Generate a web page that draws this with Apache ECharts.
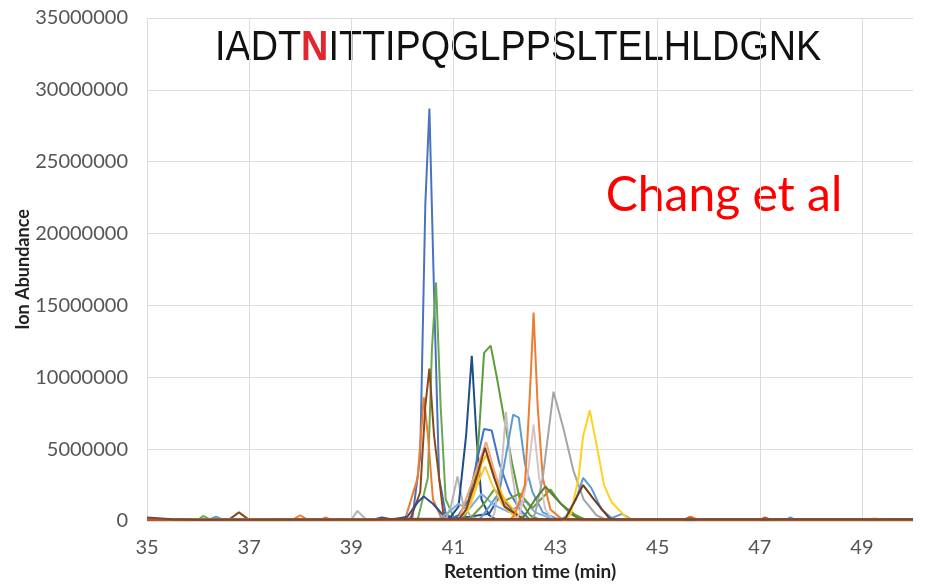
<!DOCTYPE html>
<html>
<head>
<meta charset="utf-8">
<script src="https://cdn.jsdelivr.net/npm/echarts@6/dist/echarts.min.js"></script>
<style>
  html, body { margin: 0; padding: 0; background: #fff; }
  #chart { width: 926px; height: 587px; }
</style>
</head>
<body>
<div id="chart"></div>
<script>
// retention time (min) / ion abundance pairs
var blueTall = [[35, 8e4], [40.1, 8e4], [40.2, 3e5], [40.35, 4.5e6], [40.45, 2.2e7], [40.53, 2.87e7], [40.62, 1.6e7], [40.72, 3e6], [40.85, 5e5], [41.0, 1e5], [50, 8e4]];
var greenTall = [[35, 8e4], [36.0, 8e4], [36.1, 3.5e5], [36.25, 8e4], [40.3, 1e5], [40.5, 3e6], [40.58, 1.2e7], [40.66, 1.66e7], [40.75, 8e6], [40.85, 1.5e6], [41.0, 3e5], [41.15, 8e4], [50, 8e4]];
var brownEarly = [[35, 2e5], [35.4, 8e4], [36.6, 8e4], [36.8, 6e5], [37.0, 8e4], [40.15, 8e4], [40.35, 2e6], [40.45, 8e6], [40.53, 1.06e7], [40.62, 6e6], [40.8, 6e5], [41.0, 1e5], [50, 8e4]];
var orangeEarly = [[35, 8e4], [37.85, 8e4], [38.0, 4e5], [38.15, 8e4], [38.4, 8e4], [38.5, 2.5e5], [38.6, 8e4], [40.05, 8e4], [40.3, 3e6], [40.42, 8.6e6], [40.5, 6e6], [40.6, 1.5e6], [40.75, 3e5], [40.9, 8e4], [50, 8e4]];
var navyEarly = [[35, 8e4], [39.4, 8e4], [39.6, 2.5e5], [39.8, 1e5], [40.1, 3e5], [40.3, 1.3e6], [40.42, 1.7e6], [40.6, 1.2e6], [40.8, 4e5], [41.0, 2e5], [41.3, 3e5], [41.7, 5e5], [41.9, 1.7e6], [42.05, 1.2e6], [42.3, 2e5], [42.5, 8e4], [50, 8e4]];
var navyMid = [[35, 8e4], [40.9, 8e4], [41.1, 1e6], [41.25, 6e6], [41.36, 1.15e7], [41.45, 6e6], [41.55, 1.5e6], [41.7, 4e5], [41.85, 8e4], [50, 8e4]];
var grayEarly = [[35, 8e4], [39.0, 8e4], [39.12, 7e5], [39.3, 8e4], [40.85, 1e5], [40.95, 1e6], [41.08, 3.1e6], [41.2, 1e6], [41.35, 3e5], [41.5, 8e4], [50, 8e4]];
var greenBroad = [[35, 8e4], [41.2, 1e5], [41.4, 2e6], [41.5, 6e6], [41.6, 1.17e7], [41.73, 1.22e7], [41.85, 1e7], [42.0, 7e6], [42.15, 4e6], [42.3, 1.5e6], [42.5, 4e5], [42.7, 8e4], [50, 8e4]];
var blueMid = [[35, 8e4], [40.9, 8e4], [41.1, 4e5], [41.3, 1.5e6], [41.45, 4e6], [41.6, 6.4e6], [41.75, 6.3e6], [41.9, 4e6], [42.1, 2e6], [42.3, 8e5], [42.5, 8e4], [50, 8e4]];
var yellowMid = [[35, 8e4], [41.1, 8e4], [41.3, 1e6], [41.45, 2.5e6], [41.55, 4e6], [41.65, 4.6e6], [41.8, 3e6], [42.0, 1.5e6], [42.3, 3e5], [42.45, 8e4], [50, 8e4]];
var yellowMid2 = [[35, 8e4], [41.1, 8e4], [41.3, 8e5], [41.5, 2.8e6], [41.62, 3.8e6], [41.75, 2.6e6], [41.95, 1.2e6], [42.2, 3e5], [42.4, 8e4], [50, 8e4]];
var peachMid = [[35, 8e4], [41.1, 8e4], [41.45, 3.5e6], [41.64, 5.5e6], [41.8, 3.5e6], [42.0, 1.2e6], [42.2, 3e5], [42.35, 8e4], [50, 8e4]];
var brownMid = [[35, 8e4], [41.1, 8e4], [41.25, 8e5], [41.45, 3e6], [41.62, 5.1e6], [41.8, 3e6], [42.0, 1e6], [42.3, 3e5], [42.45, 8e4], [50, 8e4]];
var tealMid = [[35, 8e4], [40.7, 8e4], [40.9, 6e5], [41.1, 1.2e6], [41.3, 8e5], [41.55, 1.9e6], [41.8, 1.1e6], [42.1, 6e5], [42.4, 1.4e6], [42.6, 6e5], [42.9, 2e5], [43.1, 8e4], [50, 8e4]];
var oliveMid = [[35, 8e4], [41.3, 8e4], [41.6, 1.2e6], [41.8, 2.2e6], [42.0, 1.4e6], [42.3, 1.9e6], [42.55, 9e5], [42.9, 2.2e6], [43.1, 1.2e6], [43.4, 4e5], [43.6, 8e4], [50, 8e4]];
var silverMid = [[35, 8e4], [41.7, 8e4], [41.8, 5e5], [41.95, 4e6], [42.03, 7.6e6], [42.12, 4e6], [42.25, 1e6], [42.4, 8e4], [50, 8e4]];
var skyMid = [[35, 8e4], [36.2, 8e4], [36.35, 3e5], [36.5, 8e4], [41.5, 8e4], [41.6, 5e5], [41.9, 2e6], [42.05, 5e6], [42.17, 7.4e6], [42.28, 7.2e6], [42.4, 4e6], [42.55, 2e6], [42.75, 6e5], [43.0, 2e5], [43.2, 8e4], [50, 8e4]];
var orangeLate = [[35, 8e4], [42.1, 8e4], [42.2, 4e5], [42.4, 2.5e6], [42.5, 9e6], [42.57, 1.45e7], [42.65, 8e6], [42.75, 3e6], [42.9, 8e5], [43.1, 2e5], [43.3, 8e4], [45.5, 8e4], [45.65, 3e5], [45.8, 8e4], [50, 8e4]];
var pinkLate = [[35, 8e4], [42.2, 8e4], [42.3, 5e5], [42.45, 3e6], [42.57, 6.7e6], [42.68, 3e6], [42.8, 8e5], [42.95, 8e4], [50, 8e4]];
var grayLate = [[35, 8e4], [42.5, 8e4], [42.6, 5e5], [42.75, 3e6], [42.96, 9e6], [43.15, 6.5e6], [43.35, 3.5e6], [43.55, 1.5e6], [43.8, 4e5], [44.0, 8e4], [50, 8e4]];
var greenLate = [[35, 8e4], [42.3, 8e4], [42.4, 4e5], [42.6, 1.5e6], [42.8, 2.4e6], [43.0, 1.6e6], [43.3, 5e5], [43.5, 8e4], [50, 8e4]];
var yellowLate = [[35, 8e4], [43.2, 8e4], [43.3, 5e5], [43.45, 3e6], [43.54, 5.9e6], [43.67, 7.7e6], [43.82, 5e6], [43.95, 2.5e6], [44.1, 1.3e6], [44.4, 2e5], [44.6, 8e4], [49.1, 8e4], [49.25, 2e5], [49.4, 8e4], [50, 8e4]];
var skyLate = [[35, 8e4], [43.1, 8e4], [43.2, 3e5], [43.4, 1.5e6], [43.54, 3e6], [43.7, 2.3e6], [43.9, 8e5], [44.1, 2e5], [44.3, 5e5], [44.5, 8e4], [47.5, 8e4], [47.6, 2.5e5], [47.7, 8e4], [50, 8e4]];
var brownLate = [[35, 8e4], [43.1, 8e4], [43.2, 2e5], [43.54, 2.5e6], [43.75, 1.5e6], [44.05, 2e5], [44.2, 8e4], [50, 8e4]];
var redBase = [[35, 8e4], [45.5, 8e4], [45.62, 2.5e5], [45.75, 8e4], [47.0, 8e4], [47.1, 2.5e5], [47.22, 8e4], [50, 8e4]];
var brownBase = [[35, 2.5e5], [35.5, 1.2e5], [36.0, 8e4], [39.5, 1.2e5], [40.0, 1.5e5], [44.0, 1.2e5], [50, 1.2e5]];

var yTicks = ['0', '5000000', '10000000', '15000000', '20000000', '25000000', '30000000', '35000000'];

var traces = [
  ['blueTall', '#4a72c0', blueTall],
  ['greenTall', '#6aa84f', greenTall],
  ['orangeEarly', '#ed7d31', orangeEarly],
  ['brownEarly', '#8b4a1c', brownEarly],
  ['navyEarly', '#2f4f8f', navyEarly],
  ['grayEarly', '#b4b4b4', grayEarly],
  ['navyMid', '#1f4e87', navyMid],
  ['greenBroad', '#5e9e3a', greenBroad],
  ['blueMid', '#4472c4', blueMid],
  ['silverMid', '#c8c0c0', silverMid],
  ['skyMid', '#5b9bd5', skyMid],
  ['tealMid', '#7cafdd', tealMid],
  ['oliveMid', '#6f9a3a', oliveMid],
  ['peachMid', '#f4a36c', peachMid],
  ['yellowMid', '#ffc000', yellowMid],
  ['yellowMid2', '#f5c842', yellowMid2],
  ['brownMid', '#7a3e1a', brownMid],
  ['pinkLate', '#d8c4c4', pinkLate],
  ['orangeLate', '#ed7d31', orangeLate],
  ['grayLate', '#a5a5a5', grayLate],
  ['greenLate', '#548235', greenLate],
  ['skyLate', '#5b9bd5', skyLate],
  ['yellowLate', '#ffd21f', yellowLate],
  ['brownLate', '#6f3a1e', brownLate],
  ['redBase', '#d0502a', redBase],
  ['brownBase', '#7b4a2e', brownBase]
];

var chart = echarts.init(document.getElementById('chart'));

var option = {
  animation: false,
  backgroundColor: '#ffffff',
  grid: { left: 147, right: 13, top: 18, bottom: 66, containLabel: false, outerBoundsMode: 'none' },
  xAxis: {
    type: 'value',
    min: 35,
    max: 50,
    interval: 1,
    name: 'Retention time (min)',
    nameLocation: 'middle',
    nameGap: 41,
    nameMoveOverlap: false,
    nameTextStyle: { fontFamily: 'Lato', fontWeight: 'bold', fontSize: 19, color: '#222' },
    axisLine: { show: true, lineStyle: { color: '#d9d9d9' } },
    axisTick: { show: false },
    axisLabel: {
      margin: 17,
      fontFamily: 'Lato',
      fontSize: 20,
      color: '#555',
      formatter: function (v) { return v % 2 === 1 ? String(v) : ''; }
    },
    splitLine: { show: true, lineStyle: { color: ['#dcdcdc', 'rgba(0,0,0,0)'], width: 1 } }
  },
  yAxis: {
    type: 'value',
    min: 0,
    max: 35000000,
    interval: 5000000,
    name: 'Ion Abundance',
    nameLocation: 'middle',
    nameGap: 115,
    nameMoveOverlap: false,
    nameTextStyle: { fontFamily: 'Lato', fontWeight: 'bold', fontSize: 18, color: '#222' },
    axisLine: { show: false },
    axisTick: { show: false },
    axisLabel: {
      margin: 19,
      fontFamily: 'Lato',
      fontSize: 20,
      color: '#555',
      formatter: function (v) { return yTicks[Math.round(v / 5000000)]; }
    },
    splitLine: { show: true, lineStyle: { color: '#dcdcdc', width: 1 } }
  },
  graphic: [
    {
      type: 'text',
      x: 215,
      y: 48,
      scaleX: 0.9,
      style: {
        text: '{a|IADT}{b|N}{a|ITTIPQGLPPSLTELHLDGNK}',
        verticalAlign: 'middle',
        rich: {
          a: { fontFamily: 'Liberation Sans', fontSize: 42, fill: '#111' },
          b: { fontFamily: 'Liberation Sans', fontSize: 42, fontWeight: 'bold', fill: '#e3262d' }
        }
      }
    },
    {
      type: 'text',
      x: 724,
      y: 196,
      style: {
        text: 'Chang et al',
        align: 'center',
        verticalAlign: 'middle',
        fontFamily: 'Lato',
        fontSize: 48,
        fill: '#ff0000'
      }
    }
  ],
  series: traces.map(function (t) {
    return {
      name: t[0],
      type: 'line',
      data: t[2],
      showSymbol: false,
      symbol: 'none',
      lineStyle: { color: t[1], width: 2 },
      itemStyle: { color: t[1] }
    };
  })
};

chart.setOption(option);
</script>
</body>
</html>
